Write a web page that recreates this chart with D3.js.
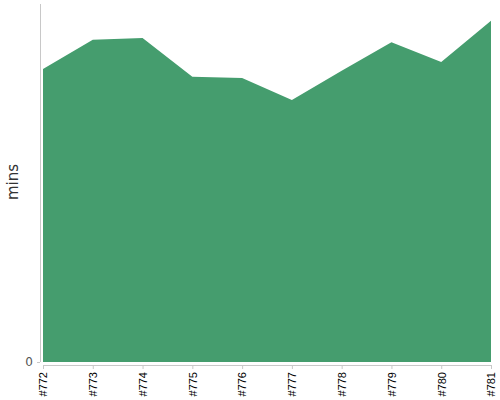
<!DOCTYPE html>
<html><head><meta charset="utf-8">
<script src="https://cdn.jsdelivr.net/npm/d3@7"></script>
<style>body{margin:0;background:#fff}svg{display:block}</style>
</head><body>
<svg id="c" width="500" height="400"></svg>
<script>
const builds = ["#772","#773","#774","#775","#776","#777","#778","#779","#780","#781"];
const mins = [49.1, 54.0, 54.3, 47.8, 47.6, 43.9, 48.8, 53.6, 50.3, 57.2];
const yTicks = [0];
const yLabel = "mins";

const svg = d3.select("#c");
const x = d3.scalePoint().domain(builds).range([43, 491]);
const y = d3.scaleLinear().domain([0, 60]).range([362, 4]);

svg.append("path")
  .datum(builds.map((b,i)=>({b, v: mins[i]})))
  .attr("fill", "#459d6e")
  .attr("d", d3.area().x(d=>x(d.b)).y0(y(0)).y1(d=>y(d.v)));

// y axis
const ya = svg.append("g").attr("transform","translate(40,0)")
  .call(d3.axisLeft(y).tickValues(yTicks).tickSize(3).tickPadding(4).tickFormat(d3.format("d")));
ya.select(".domain").attr("stroke","#c8c8c8").attr("d","M0.5,4V362");
ya.selectAll(".tick line").attr("stroke","#c8c8c8");
ya.selectAll("text").attr("fill","#555").attr("font-size",12).attr("font-family","DejaVu Sans, sans-serif");

// x axis
const xa = svg.append("g").attr("transform","translate(0,365)")
  .call(d3.axisBottom(x).tickSize(4).tickPadding(4));
xa.select(".domain").attr("stroke","#c8c8c8").attr("d","M43,0.5H491");
xa.selectAll(".tick line").attr("stroke","#c8c8c8");
xa.selectAll("text")
  .attr("fill","#000").attr("font-size",11).attr("font-family","Liberation Sans, Arial, sans-serif")
  .attr("transform","rotate(-90)")
  .attr("text-anchor","end").attr("x",-7).attr("y",0).attr("dy","0.35em");

svg.append("text")
  .attr("transform","translate(18,182) rotate(-90)")
  .attr("text-anchor","middle")
  .attr("fill","#333").attr("font-size",15)
  .attr("font-family","DejaVu Sans, sans-serif")
  .text(yLabel);
</script>
</body></html>
